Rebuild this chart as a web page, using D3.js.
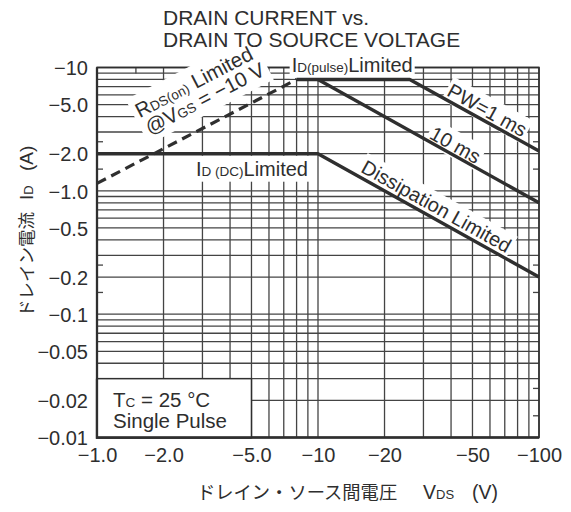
<!DOCTYPE html>
<html>
<head>
<meta charset="utf-8">
<script src="https://cdn.jsdelivr.net/npm/d3@7"></script>
<style>
  body { margin: 0; background: #fff; }
  svg text { font-family: "Liberation Sans", Arial, Helvetica, sans-serif; fill: #2e2e2e; }
  svg .jp { font-family: "Noto Sans CJK JP", sans-serif; }
</style>
</head>
<body>
<svg id="soa" width="571" height="512"></svg>
<script>
// Drain current vs drain-source voltage (safe operating area), P-channel so values are negative

const vdsTicks = [-1, -2, -5, -10, -20, -50, -100];
const vdsTickLabels = ["−1.0", "−2.0", "−5.0", "−10", "−20", "−50", "−100"];
const idTicks = [-10, -5, -2, -1, -0.5, -0.2, -0.1, -0.05, -0.02, -0.01];
const idTickLabels = ["−10", "−5.0", "−2.0", "−1.0", "−0.5", "−0.2", "−0.1", "−0.05", "−0.02", "−0.01"];

// limit curves (vds in V, id in A)
const rdsOnLimit = [{vds: -1, id: -1.15}, {vds: -8, id: -8}];
const pulse1ms = [{vds: -8, id: -8}, {vds: -26, id: -8}, {vds: -100, id: -2.1}];
const pulse10ms = [{vds: -10, id: -8}, {vds: -100, id: -0.8}];
const dcLimit = [{vds: -1, id: -2}, {vds: -10, id: -2}, {vds: -100, id: -0.2}];

// half-step marks on the frame edges
const idStubs = [-0.015, -0.025, -0.15, -0.25, -1.5, -2.5];
const vdsStubs = [-1.5];

//////////////////////////// SETUP ////////////////////////////
const pLeft = 97, pRight = 539, pTop = 67.5, pBottom = 437.5;

const x = d3.scaleLog().domain([-1, -100]).range([pLeft, pRight]);
const y = d3.scaleLog().domain([-0.01, -10]).range([pBottom, pTop]);

const svg = d3.select('#soa');
const gridLayer = svg.append('g');
const maskLayer = svg.append('g');
const curveLayer = svg.append('g');
const labelLayer = svg.append('g');

const ink = '#2f2f2f';
const gridInk = '#444';

// title
svg.append('text').attr('x', 163).attr('y', 25).attr('font-size', 21).text('DRAIN CURRENT vs.');
svg.append('text').attr('x', 163).attr('y', 47).attr('font-size', 21).text('DRAIN TO SOURCE VOLTAGE');

//////////////////////////// GRID ////////////////////////////
gridLayer.selectAll('.vgrid')
  .data(x.ticks())
  .enter().append('line')
  .attr('x1', d => x(d)).attr('x2', d => x(d))
  .attr('y1', pTop).attr('y2', pBottom)
  .attr('stroke', gridInk).attr('stroke-width', 1.3);

gridLayer.selectAll('.hgrid')
  .data(y.ticks())
  .enter().append('line')
  .attr('x1', pLeft).attr('x2', pRight)
  .attr('y1', d => y(d)).attr('y2', d => y(d))
  .attr('stroke', gridInk).attr('stroke-width', 1.3);

// small marks on left/right edges
idStubs.forEach(v => {
  gridLayer.append('line').attr('x1', pLeft).attr('x2', pLeft + 6)
    .attr('y1', y(v)).attr('y2', y(v)).attr('stroke', gridInk).attr('stroke-width', 1.3);
  gridLayer.append('line').attr('x1', pRight - 6).attr('x2', pRight)
    .attr('y1', y(v)).attr('y2', y(v)).attr('stroke', gridInk).attr('stroke-width', 1.3);
});
vdsStubs.forEach(v => {
  gridLayer.append('line').attr('x1', x(v)).attr('x2', x(v))
    .attr('y1', pTop).attr('y2', pTop + 6).attr('stroke', gridInk).attr('stroke-width', 1.3);
});

// frame
gridLayer.append('rect')
  .attr('x', pLeft).attr('y', pTop)
  .attr('width', pRight - pLeft).attr('height', pBottom - pTop)
  .attr('fill', 'none').attr('stroke', ink).attr('stroke-width', 1.6);
gridLayer.append('path')
  .attr('d', `M${pLeft},${pTop}V${pBottom}H${pRight}`)
  .attr('fill', 'none').attr('stroke', ink).attr('stroke-width', 2.3);

//////////////////////////// AXES ////////////////////////////
const xAxis = d3.axisBottom(x).tickValues(vdsTicks).tickSize(0).tickPadding(0)
  .tickFormat((d, i) => vdsTickLabels[i]);
const xAxisGroup = svg.append('g').attr('transform', `translate(0, ${pBottom})`).call(xAxis);
xAxisGroup.select('.domain').remove();
xAxisGroup.attr('font-family', null).attr('font-size', null);
xAxisGroup.selectAll('text')
  .attr('font-size', 20).attr('fill', '#2e2e2e')
  .attr('dy', null).attr('y', 24);

const yAxis = d3.axisLeft(y).tickValues(idTicks).tickSize(0).tickPadding(0)
  .tickFormat((d, i) => idTickLabels[i]);
const yAxisGroup = svg.append('g').attr('transform', `translate(${pLeft - 9}, 0)`).call(yAxis);
yAxisGroup.select('.domain').remove();
yAxisGroup.attr('font-family', null).attr('font-size', null);
yAxisGroup.selectAll('text')
  .attr('font-size', 20).attr('fill', '#2e2e2e')
  .attr('x', 0).attr('dy', '0.36em');

// axis titles
const xt = svg.append('text').attr('y', 499);
xt.append('tspan').attr('class', 'jp').attr('x', 197).attr('font-size', 18.3).text('ドレイン・ソース間電圧');
xt.append('tspan').attr('x', 423).attr('font-size', 19.5).text('V');
xt.append('tspan').attr('font-size', 13).text('DS');
xt.append('tspan').attr('x', 472).attr('font-size', 19.5).text('(V)');

const yt = svg.append('text').attr('transform', 'translate(33, 317) rotate(-90)');
yt.append('tspan').attr('class', 'jp').attr('x', 0).attr('font-size', 17.5).text('ドレイン電流');
yt.append('tspan').attr('x', 117).attr('font-size', 19).text('I');
yt.append('tspan').attr('font-size', 13).text('D');
yt.append('tspan').attr('x', 146).attr('font-size', 19).text('(A)');

//////////////////////////// LABELS ////////////////////////////
function rich(textSel, parts) {
  parts.forEach(p => textSel.append('tspan').attr('font-size', p[1]).text(p[0]));
  return textSel;
}

function addMask(g, pad) {
  const bb = g.node().getBBox();
  maskLayer.append('rect')
    .attr('transform', g.attr('transform'))
    .attr('x', bb.x - pad).attr('y', bb.y - pad)
    .attr('width', bb.width + pad * 2).attr('height', bb.height + pad * 2)
    .attr('fill', '#fff');
}

// position along a segment, shifted "above" it by off px, rotated to its slope
function along(seg, t, off) {
  const x1 = x(seg[0].vds), y1 = y(seg[0].id);
  const x2 = x(seg[1].vds), y2 = y(seg[1].id);
  const a = Math.atan2(y2 - y1, x2 - x1);
  const px = x1 + t * (x2 - x1) + off * Math.sin(a);
  const py = y1 + t * (y2 - y1) - off * Math.cos(a);
  return `translate(${px}, ${py}) rotate(${a * 180 / Math.PI})`;
}

function segLength(seg) {
  return Math.hypot(x(seg[1].vds) - x(seg[0].vds), y(seg[1].id) - y(seg[0].id));
}

// RDS(on) limited, two lines parallel to the dashed line
const rdsG = labelLayer.append('g').attr('transform', along(rdsOnLimit, 68 / segLength(rdsOnLimit), 0));
rich(rdsG.append('text').attr('x', 0).attr('y', -38),
  [['R', 20.5], ['DS(on)', 13.5], [' Limited', 20.5]]);
rich(rdsG.append('text').attr('x', 1).attr('y', -18.5),
  [['@V', 20.5], ['GS', 13.5], [' = −10 V', 20.5]]);
addMask(rdsG, 4);

// ID(pulse) limited
const pulseG = labelLayer.append('g').attr('transform', `translate(${x(-26) + 3}, ${y(-8) - 7})`);
rich(pulseG.append('text').attr('text-anchor', 'end'),
  [['I', 20], ['D(pulse)', 13.5], ['Limited', 20]]);
addMask(pulseG, 2);

// ID(DC) limited
const dcG = labelLayer.append('g').attr('transform', `translate(${x(-10) - 10}, ${y(-2) + 22})`);
rich(dcG.append('text').attr('text-anchor', 'end'),
  [['I', 20], ['D (DC)', 13.5], ['Limited', 20]]);
addMask(dcG, 2);

// slanted labels
const slanted = [
  {seg: pulse1ms.slice(1), t: 0.56, off: 11, text: 'PW=1 ms'},
  {seg: pulse10ms, t: 0.60, off: 10, text: '10 ms'},
  {seg: dcLimit.slice(1), t: 0.51, off: 12, text: 'Dissipation Limited'}
];
slanted.forEach(s => {
  const g = labelLayer.append('g').attr('transform', along(s.seg, s.t, s.off));
  g.append('text').attr('text-anchor', 'middle').attr('dy', '0.36em')
    .attr('font-size', 20).text(s.text);
  addMask(g, 2);
});

// condition box
maskLayer.append('rect')
  .attr('x', x(-1)).attr('y', y(-0.03))
  .attr('width', x(-5) - x(-1)).attr('height', y(-0.01) - y(-0.03))
  .attr('fill', '#fff').attr('stroke', ink).attr('stroke-width', 1.5);
rich(labelLayer.append('text').attr('x', x(-1) + 16).attr('y', y(-0.03) + 28),
  [['T', 20.5], ['C', 13.5], [' = 25 °C', 20.5]]);
labelLayer.append('text').attr('x', x(-1) + 16).attr('y', y(-0.03) + 49)
  .attr('font-size', 20.5).text('Single Pulse');

//////////////////////////// CURVES ////////////////////////////
const line = d3.line().x(d => x(d.vds)).y(d => y(d.id));

[pulse1ms, pulse10ms, dcLimit].forEach(c => {
  curveLayer.append('path').datum(c).attr('d', line)
    .attr('fill', 'none').attr('stroke', ink).attr('stroke-width', 3.4)
    .attr('stroke-linejoin', 'round');
});
curveLayer.append('path').datum(rdsOnLimit).attr('d', line)
  .attr('fill', 'none').attr('stroke', ink).attr('stroke-width', 3.2)
  .attr('stroke-dasharray', '10,6');

// keep frame's left/bottom edges over the box
svg.append('path')
  .attr('d', `M${pLeft},${y(-0.03)}V${pBottom}H${x(-5)}`)
  .attr('fill', 'none').attr('stroke', ink).attr('stroke-width', 2.3);
</script>
</body>
</html>
